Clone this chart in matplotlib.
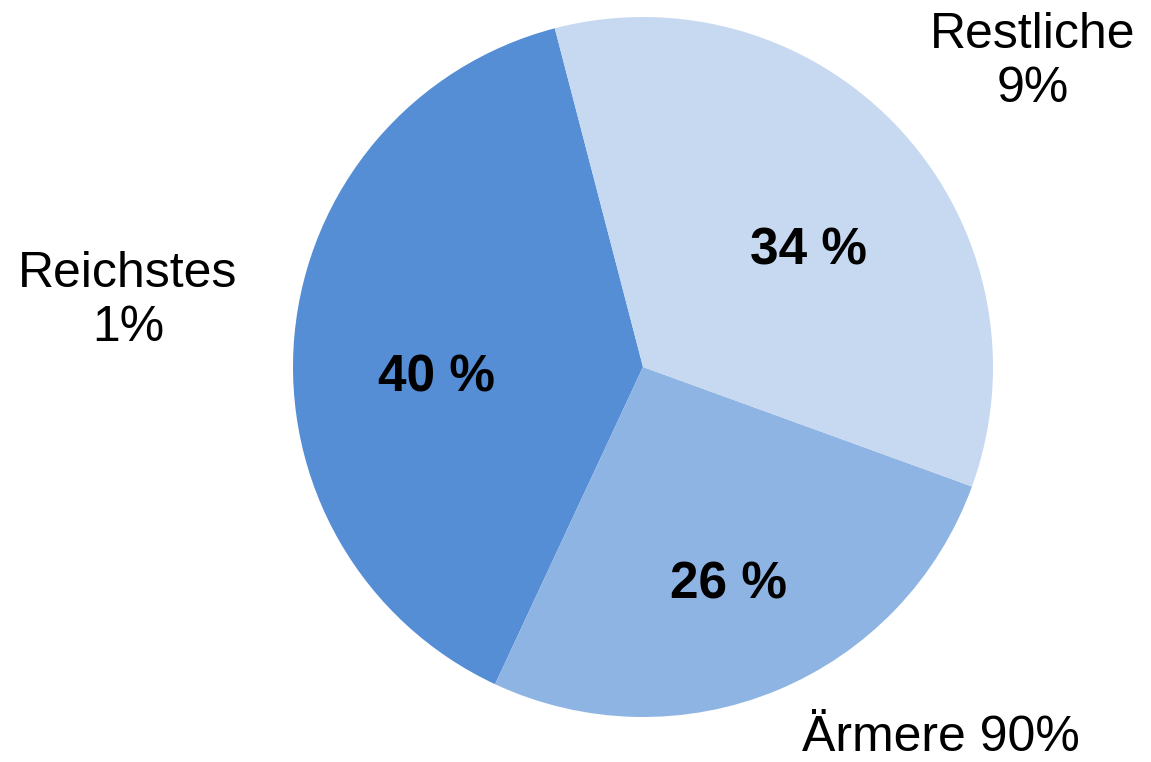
import matplotlib.pyplot as plt

plt.rcParams["font.family"] = ["Liberation Sans", "DejaVu Sans"]

# population groups (outer labels) and their share of total wealth
groups = ["Reichstes\n1%", "Ärmere 90%", "Restliche\n9%"]
# wedge sizes as drawn in the original (its printed labels are rounded)
wedge_sizes = [39.0, 26.4, 34.6]
share_labels = ["40 %", "26 %", "34 %"]
colors = ["#558ED5", "#8EB4E3", "#C6D9F1"]

W, H = 1151, 762
CX, CY, R = 643, 367, 350  # pie centre and radius in pixels

# label anchor points in pixels (x from left, y from top)
group_pos = [(128, 301), (941, 738), (1033, 62)]
share_pos = [(436, 378), (728, 585), (808, 251)]

fig = plt.figure(figsize=(W / 100, H / 100), dpi=100)
ax = fig.add_axes([(CX - R) / W, (H - CY - R) / H, 2 * R / W, 2 * R / H])
ax.pie(wedge_sizes, colors=colors, startangle=104.6, counterclock=True,
       wedgeprops={"linewidth": 0})
ax.set_xlim(-1, 1)
ax.set_ylim(-1, 1)
ax.set_aspect("equal")
ax.axis("off")


def to_data(px, py):
    return (px - CX) / R, (CY - py) / R


for text, (px, py) in zip(groups, group_pos):
    x, y = to_data(px, py)
    ax.text(x, y, text, ha="center", va="center", fontsize=36,
            linespacing=1.2, clip_on=False)

for text, (px, py) in zip(share_labels, share_pos):
    x, y = to_data(px, py)
    ax.text(x, y, text, ha="center", va="center", fontsize=37,
            fontweight="bold")

fig.savefig("out.png", dpi=100)
